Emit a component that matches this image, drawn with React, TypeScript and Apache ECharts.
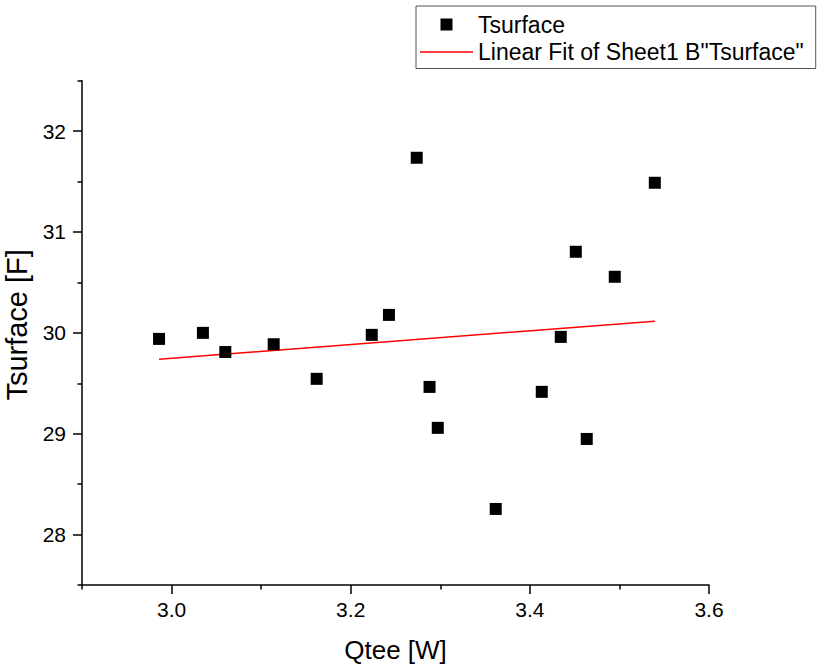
import React, { useEffect, useRef } from 'react';
import * as echarts from 'echarts';

const qtee = [2.986, 3.035, 3.06, 3.114, 3.162, 3.2235, 3.2427, 3.2737, 3.288, 3.2972, 3.3619, 3.4133, 3.4345, 3.4513, 3.4635, 3.4948, 3.5395];
const tsurface = [29.94, 30.0, 29.81, 29.887, 29.544, 29.98, 30.178, 31.736, 29.464, 29.058, 28.254, 29.415, 29.96, 30.804, 28.948, 30.556, 31.488];
const fitQtee = [2.986, 3.5395];
const fitTsurface = [29.738, 30.115];
const xMajorTicks = [3.0, 3.2, 3.4, 3.6];
const xMinorTicks = [2.9, 3.1, 3.3, 3.5];
const yMajorTicks = [28, 29, 30, 31, 32];
const yMinorTicks = [27.5, 28.5, 29.5, 30.5, 31.5, 32.5];
const scatterName = 'Tsurface';
const fitName = 'Linear Fit of Sheet1 B"Tsurface"';

export default function App() {
  const ref = useRef<HTMLDivElement>(null);
  useEffect(() => {
    const chart = echarts.init(ref.current!, null, { renderer: 'svg' });
    const font = 'Liberation Sans, Arial, sans-serif';
    const rect = { left: 82, right: 113, top: 80.7, bottom: 82, containLabel: false, outerBoundsMode: 'none' };
    const black = '#000';
    chart.setOption({
      animation: false,
      textStyle: { fontFamily: font },
      grid: [{ ...rect }, { ...rect }],
      legend: {
        orient: 'vertical',
        left: 416,
        top: 6,
        padding: [7, 12, 5, 4],
        itemGap: 4.5,
        itemWidth: 53,
        itemHeight: 12,
        borderColor: '#555',
        borderWidth: 1,
        backgroundColor: '#fff',
        textStyle: { fontSize: 23, color: black, fontFamily: font },
        data: [
          { name: scatterName, icon: 'path://M0,0H12V12H0Z', itemStyle: { color: black, opacity: 1 } },
          { name: fitName, icon: 'path://M0,0H53V1.5H0Z', itemStyle: { color: '#ff0000', opacity: 1 } },
        ],
      },
      xAxis: [
        {
          type: 'value', gridIndex: 0, min: 2.9, max: 3.6,
          name: 'Qtee [W]', nameLocation: 'middle', nameGap: 52,
          nameTextStyle: { fontSize: 26, color: black, fontFamily: font },
          axisLine: { show: true, onZero: false, lineStyle: { color: black, width: 1.5 } },
          axisTick: { show: true, customValues: xMajorTicks, length: 9, lineStyle: { color: black, width: 1.5 } },
          axisLabel: { customValues: xMajorTicks, formatter: (v: number) => v.toFixed(1), fontSize: 21, color: black, margin: 14, fontFamily: font },
          splitLine: { show: false },
        },
        {
          type: 'value', gridIndex: 1, min: 2.9, max: 3.6,
          axisLine: { show: false, onZero: false },
          axisTick: { show: true, customValues: xMinorTicks, length: 4.5, lineStyle: { color: black, width: 1.5 } },
          axisLabel: { show: false },
          splitLine: { show: false },
        },
      ],
      yAxis: [
        {
          type: 'value', gridIndex: 0, min: 27.5, max: 32.5,
          name: 'Tsurface [F]', nameLocation: 'middle', nameGap: 41,
          nameTextStyle: { fontSize: 29, color: black, fontFamily: font, padding: [0, 0, 0, 16] },
          axisLine: { show: true, onZero: false, lineStyle: { color: black, width: 1.5 } },
          axisTick: { show: true, customValues: yMajorTicks, length: 9, lineStyle: { color: black, width: 1.5 } },
          axisLabel: { customValues: yMajorTicks, fontSize: 21, color: black, margin: 16, fontFamily: font },
          splitLine: { show: false },
        },
        {
          type: 'value', gridIndex: 1, min: 27.5, max: 32.5,
          axisLine: { show: false, onZero: false },
          axisTick: { show: true, customValues: yMinorTicks, length: 4.5, lineStyle: { color: black, width: 1.5 } },
          axisLabel: { show: false },
          splitLine: { show: false },
        },
      ],
      series: [
        {
          name: scatterName,
          type: 'scatter',
          xAxisIndex: 0, yAxisIndex: 0,
          symbol: 'rect',
          symbolSize: 12,
          itemStyle: { color: black, opacity: 1 },
          data: qtee.map((q, i) => [q, tsurface[i]]),
          z: 3,
        },
        {
          name: fitName,
          type: 'line',
          xAxisIndex: 0, yAxisIndex: 0,
          symbol: 'none',
          showSymbol: false,
          lineStyle: { color: '#ff0000', width: 1.5 },
          itemStyle: { color: '#ff0000' },
          data: fitQtee.map((q, i) => [q, fitTsurface[i]]),
          z: 2,
        },
      ],
    });
    return () => chart.dispose();
  }, []);
  return <div ref={ref} style={{ position: 'fixed', left: 0, top: 0, width: 822, height: 667, background: '#fff' }} />;
}
